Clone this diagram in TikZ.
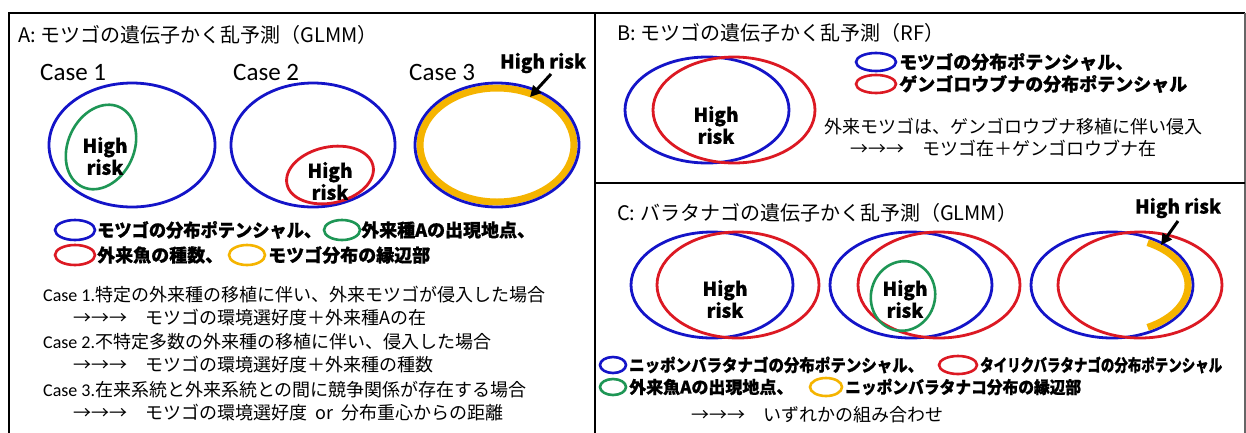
\documentclass[tikz,border=0pt]{standalone}
\usepackage{fontspec}
\usepackage{graphicx}
\setmainfont{Noto Sans CJK JP}
\newfontfamily\popfont{Noto Sans CJK JP}[BoldFeatures={FakeBold=0.8}]
\newfontfamily\lat{Carlito}
\usetikzlibrary{arrows.meta}
\definecolor{eblue}{RGB}{20,20,200}
\definecolor{ered}{RGB}{220,25,35}
\definecolor{egreen}{RGB}{30,150,85}
\definecolor{eorange}{RGB}{245,180,0}
\begin{document}
\begin{tikzpicture}[x=1pt,y=-1pt,
  frame/.style={line width=2.4pt, draw=black},
  bigb/.style={draw=eblue, line width=2.8pt},
  bigr/.style={draw=ered, line width=2.8pt},
  bigg/.style={draw=egreen, line width=2.6pt},
  bigo/.style={draw=eorange, line width=7pt},
  legb/.style={draw=eblue, line width=2.6pt},
  legr/.style={draw=ered, line width=2.6pt},
  legg/.style={draw=egreen, line width=2.6pt},
  lego/.style={draw=eorange, line width=2.6pt},
  ttl/.style={anchor=west, inner sep=0pt, font=\fontsize{20}{24}\selectfont},
  body/.style={anchor=west, inner sep=0pt, font=\fontsize{18}{21}\selectfont},
  leg/.style={anchor=west, inner sep=0pt, font=\popfont\fontsize{18}{21}\selectfont\bfseries},
  legc/.style={anchor=west, inner sep=0pt, font=\popfont\fontsize{17}{20}\selectfont\bfseries},
  hr/.style={align=center, inner sep=0pt, font=\popfont\fontsize{19}{22}\selectfont\bfseries},
  caselbl/.style={anchor=west, inner sep=0pt, font=\lat\fontsize{25}{28}\selectfont},
  arr/.style={-{Triangle[length=11pt,width=11pt]}, line width=3pt, draw=black}
]
\useasboundingbox (0,0) rectangle (1246,432);
\fill[white] (0,0) rectangle (1246,432);
% frames
\draw[frame] (9,440) -- (9,13) -- (1245,13);
\draw[draw=black!60, line width=1.5pt] (1245,13) -- (1245,440);
\draw[frame] (595,13) -- (595,440);
\draw[frame] (595,183) -- (1245,183);

% ---------- Panel A ----------
\node[ttl] (tA) at (18,35) {A: モツゴの遺伝子かく乱予測（GLMM）};
\node[caselbl] (c1) at (40,72) {Case 1};
\node[caselbl] (c2) at (233,72) {Case 2};
\node[caselbl] (c3) at (409,72) {Case 3};
\node[hr] (hrA) at (543,63) {High risk};

% case 1
\draw[bigb] (132,145) ellipse [x radius=83, y radius=62];
\draw[bigg, rotate around={-25:(101,147)}] (101,147) ellipse [x radius=33, y radius=44];
\node[hr] (hr1) at (105,156) {High\\risk};
% case 2
\draw[bigb] (313,145) ellipse [x radius=82, y radius=62];
\draw[bigr, rotate around={12:(330,175)}] (330,175) ellipse [x radius=44, y radius=28];
\node[hr] (hr2) at (330,181) {High\\risk};
% case 3
\draw[bigo] (497,145) ellipse [x radius=77, y radius=57];
\draw[bigb] (497,145) ellipse [x radius=82, y radius=62];
\coordinate (aA1) at (551,74);
\coordinate (aA2) at (530,97);
\draw[arr] (aA1) -- (aA2);

% legend A
\draw[legb] (75,230) ellipse [x radius=20, y radius=10];
\node[leg] (lA1) at (97,230) {\resizebox{224pt}{\height}{モツゴの分布ポテンシャル、}};
\draw[legg] (342,230) ellipse [x radius=18, y radius=10];
\node[leg] (lA2) at (361,230) {外来種Aの出現地点、};
\draw[legr] (75,255) ellipse [x radius=20, y radius=10];
\node[leg] (lA3) at (97,255) {外来魚の種数、};
\draw[lego] (247,255) ellipse [x radius=18, y radius=10];
\node[leg] (lA4) at (268,255) {モツゴ分布の縁辺部};

% text A
\node[body] (a1) at (43,295) {{\lat Case 1.}特定の外来種の移植に伴い、外来モツゴが侵入した場合};
\node[body] (a2) at (73,318) {→→→　モツゴの環境選好度＋外来種Aの在};
\node[body] (a3) at (43,342) {{\lat Case 2.}不特定多数の外来種の移植に伴い、侵入した場合};
\node[body] (a4) at (73,365) {→→→　モツゴの環境選好度＋外来種の種数};
\node[body] (a5) at (43,390) {{\lat Case 3.}在来系統と外来系統との間に競争関係が存在する場合};
\node[body] (a6) at (73,413) {→→→　モツゴの環境選好度\ \ or\ \ 分布重心からの距離};

% ---------- Panel B ----------
\node[ttl] (tB) at (617,33) {B: モツゴの遺伝子かく乱予測（RF）};
\draw[bigb] (707,110) ellipse [x radius=82, y radius=53];
\draw[bigr] (734,110) ellipse [x radius=81, y radius=53];
\node[hr] (hrB) at (716,125) {High\\risk};
\draw[legb] (876,62) ellipse [x radius=20, y radius=9];
\node[leg] (lB1) at (899,62) {モツゴの分布ポテンシャル、};
\draw[legr] (876,84) ellipse [x radius=20, y radius=9];
\node[leg] (lB2) at (899,84) {ゲンゴロウブナの分布ポテンシャル};
\node[body] (b1) at (824,127) {外来モツゴは、ゲンゴロウブナ移植に伴い侵入};
\node[body] (b2) at (850,148) {→→→　モツゴ在＋ゲンゴロウブナ在};

% ---------- Panel C ----------
\node[ttl] (tC) at (617,213) {C: バラタナゴの遺伝子かく乱予測（GLMM）};
\node[hr] (hrC) at (1178,208) {High risk};
\draw[bigb] (712,285) ellipse [x radius=81, y radius=53];
\draw[bigr] (738,285) ellipse [x radius=81, y radius=53];
\node[hr] (hrC1) at (725,299) {High\\risk};
\draw[bigb] (911,285) ellipse [x radius=81, y radius=53];
\draw[bigr] (939,285) ellipse [x radius=81, y radius=53];
\draw[bigg, rotate around={-15:(903,296)}] (903,296) ellipse [x radius=32, y radius=35];
\node[hr] (hrC2) at (905,299) {High\\risk};
\draw[bigb] (1112,285) ellipse [x radius=81, y radius=53];
\draw[bigr] (1140,285) ellipse [x radius=82, y radius=53];
\draw[bigo] (1112,285) ++(-62:76 and 48) arc [start angle=-62, end angle=62, x radius=76, y radius=48];
\coordinate (aC1) at (1178,221);
\coordinate (aC2) at (1161,245);
\draw[arr] (aC1) -- (aC2);

% legend C
\draw[legb] (613,365) ellipse [x radius=13, y radius=8];
\node[legc] (lC1) at (629,365) {\resizebox{294pt}{\height}{ニッポンバラタナゴの分布ポテンシャル、}};
\draw[legr] (958,365) ellipse [x radius=19, y radius=9];
\node[legc] (lC2) at (980,365) {\resizebox{242pt}{\height}{タイリクバラタナゴの分布ポテンシャル}};
\draw[legg] (613,387) ellipse [x radius=13, y radius=8];
\node[legc] (lC3) at (629,387) {外来魚Aの出現地点、};
\draw[lego] (826,387) ellipse [x radius=16, y radius=9];
\node[legc] (lC4) at (845,387) {\resizebox{236pt}{\height}{ニッポンバラタナコ分布の縁辺部}};
\node[body] (c4) at (691,415) {→→→　いずれかの組み合わせ};
\end{tikzpicture}
\end{document}
